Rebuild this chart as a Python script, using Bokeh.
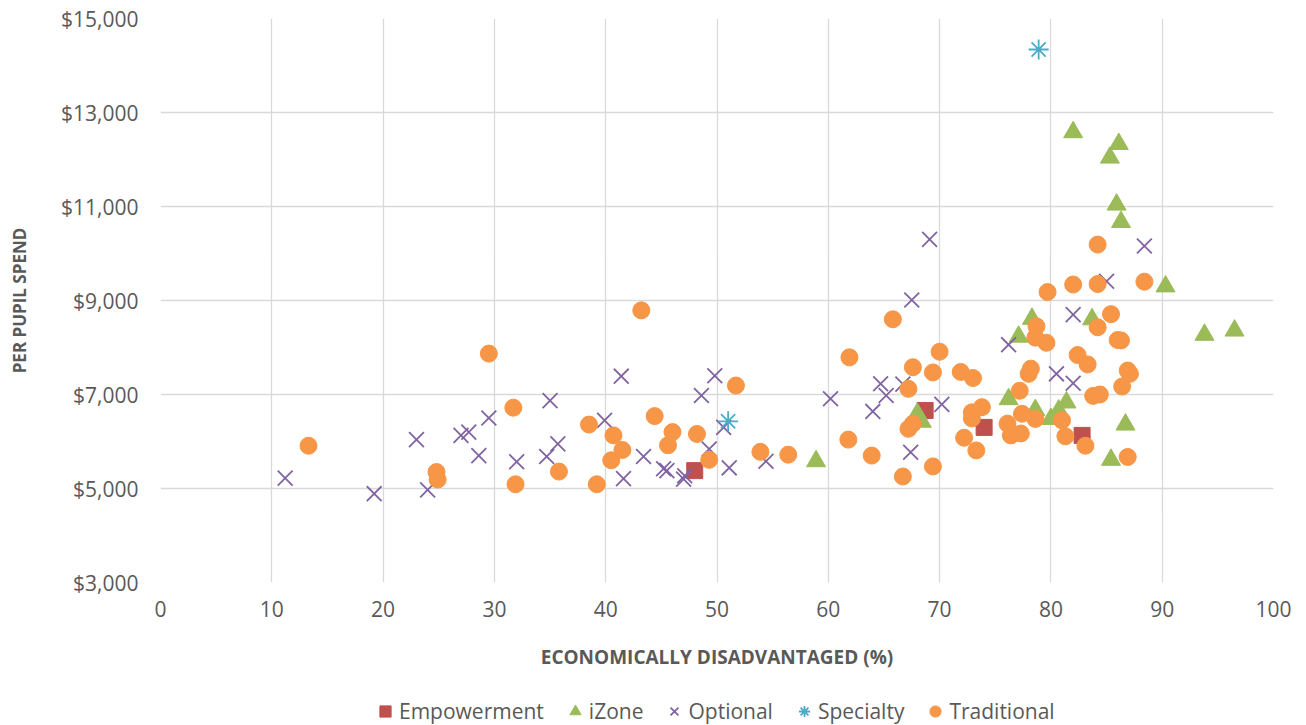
from bokeh.plotting import figure
from bokeh.layouts import column
from bokeh.models import (FixedTicker, NumeralTickFormatter, Legend, LegendItem, Range1d)
from bokeh.embed import file_html
from bokeh.resources import INLINE

# ---- data ----
emp_x = [48.0, 68.7, 74.0, 82.8]
emp_y = [5380, 6660, 6300, 6130]

izone_x = [58.9, 68.0, 68.4, 76.2, 77.1, 78.3, 78.6, 80.0, 80.7, 81.4, 82.0,
           83.7, 85.3, 85.4, 85.9, 86.1, 86.3, 86.7, 90.3, 93.8, 96.5]
izone_y = [5580, 6590, 6420, 6900, 8230, 8610, 6670, 6480, 6660, 6830, 12580,
           8600, 12040, 5610, 11040, 12330, 10670, 6360, 9300, 8270, 8360]

opt_x = [11.2, 19.2, 23.0, 24.0, 27.0, 27.7, 28.6, 29.5, 32.0, 34.7, 35.0,
         35.7, 39.9, 41.4, 41.6, 43.4, 45.2, 45.5, 47.0, 47.1, 48.6, 49.3,
         49.8, 50.6, 51.1, 54.4, 60.2, 64.0, 64.7, 65.2, 66.7, 67.4, 67.5,
         69.1, 70.2, 76.2, 80.5, 82.0, 82.0, 85.0, 88.4]
opt_y = [5220, 4890, 6040, 4970, 6130, 6200, 5700, 6500, 5570, 5680, 6870,
         5950, 6450, 7390, 5210, 5680, 5420, 5380, 5200, 5270, 6980, 5840,
         7400, 6300, 5440, 5580, 6910, 6640, 7230, 6980, 7220, 5770, 9010,
         10300, 6790, 8060, 7440, 7240, 8700, 9410, 10160]

spec_x = [51.0, 78.9]
spec_y = [6430, 14340]

trad_x = [13.3, 24.8, 24.9, 29.5, 31.7, 31.9, 35.8, 38.5, 39.2, 40.5, 40.7,
          41.5, 43.2, 44.4, 45.6, 46.0, 48.2, 49.3, 51.7, 53.9, 56.4, 61.8,
          61.9, 63.9, 65.8, 66.7, 67.2, 67.2, 67.6, 67.6, 69.4, 69.4, 70.0,
          71.9, 72.2, 72.9, 72.9, 73.0, 73.3, 73.8, 76.1, 76.4, 77.2, 77.3,
          77.4, 78.0, 78.2, 78.6, 78.6, 78.7, 79.6, 79.7, 81.0, 81.3, 82.0,
          82.4, 83.1, 83.3, 83.8, 84.2, 84.2, 84.2, 84.4, 85.4, 86.0, 86.3,
          86.4, 86.9, 87.1, 86.9, 88.4]
trad_y = [5910, 5350, 5190, 7870, 6720, 5090, 5360, 6360, 5090, 5600, 6130,
          5820, 8790, 6540, 5920, 6200, 6160, 5610, 7190, 5780, 5720, 6040,
          7790, 5700, 8600, 5255, 7120, 6270, 6380, 7580, 7470, 5470, 7910,
          7480, 6080, 6620, 6490, 7350, 5810, 6730, 6380, 6130, 7080, 6170,
          6590, 7440, 7550, 6480, 8210, 8450, 8100, 9180, 6450, 6110, 9340,
          7840, 5910, 7640, 6970, 8430, 9350, 10190, 7000, 8710, 8160, 8150,
          7170, 7510, 7440, 5670, 9400]

series_names = ["Empowerment", "iZone", "Optional", "Specialty", "Traditional"]
x_ticks = [0, 10, 20, 30, 40, 50, 60, 70, 80, 90, 100]
y_ticks = [3000, 5000, 7000, 9000, 11000, 13000, 15000]

FONT = "Open Sans"
GRAY = "#595959"

STYLES = [
    dict(marker="square", size=16, fill_color="#C0504D", line_color="#C0504D"),
    dict(marker="triangle", size=19, fill_color="#9BBB59", line_color="#9BBB59"),
    dict(marker="x", size=21, line_width=1.8, line_color="#8064A2"),
    dict(marker="asterisk", size=20, line_width=1.8, line_color="#4BACC6"),
    dict(marker="circle", size=17, fill_color="#F79646", line_color="#F79646"),
]

p = figure(frame_width=1113, frame_height=564, x_range=(0, 100), y_range=(3000, 15000),
           output_backend="svg", toolbar_location=None,
           min_border_left=160, min_border_right=33, min_border_top=18,
           min_border_bottom=100)
p.outline_line_color = None
p.background_fill_color = "white"
p.border_fill_color = "white"

for ax in (p.xaxis[0], p.yaxis[0]):
    ax.axis_line_color = None
    ax.major_tick_line_color = None
    ax.minor_tick_line_color = None
    ax.major_tick_out = 0
    ax.major_tick_in = 0
    ax.major_label_text_font = FONT
    ax.major_label_text_font_size = "21px"
    ax.major_label_text_color = GRAY
    ax.axis_label_text_font = FONT
    ax.axis_label_text_font_style = "bold"
    ax.axis_label_text_color = GRAY

p.xaxis.axis_label_text_font_size = "19px"
p.yaxis.axis_label_text_font_size = "17px"
p.xaxis.ticker = FixedTicker(ticks=x_ticks)
p.yaxis.ticker = FixedTicker(ticks=y_ticks)
p.yaxis.formatter = NumeralTickFormatter(format="$0,0")
p.xaxis.axis_label = "ECONOMICALLY DISADVANTAGED (%)"
p.yaxis.axis_label = "PER PUPIL SPEND"
p.xaxis.major_label_standoff = 18
p.yaxis.major_label_standoff = 22
p.xaxis.axis_label_standoff = 24
p.yaxis.axis_label_standoff = 27

p.xgrid.ticker = FixedTicker(ticks=x_ticks)
p.ygrid.ticker = FixedTicker(ticks=y_ticks)
p.xgrid.grid_line_color = "#D9D9D9"
p.ygrid.grid_line_color = "#D9D9D9"
p.xgrid.grid_line_width = 1.3
p.ygrid.grid_line_width = 1.3

data = [(emp_x, emp_y), (izone_x, izone_y), (opt_x, opt_y), (spec_x, spec_y), (trad_x, trad_y)]
for (xs, ys), st in zip(data, STYLES):
    p.scatter(xs, ys, **st)

# ---- legend strip (separate figure below the chart; frames are aligned) ----
lg = figure(width=1306, height=43, x_range=Range1d(0, 1), y_range=Range1d(0, 1),
            output_backend="svg", toolbar_location=None, min_border=0,
            x_axis_location=None, y_axis_location=None)
lg.outline_line_color = None
lg.xgrid.visible = False
lg.ygrid.visible = False
items = []
for name, st in zip(series_names, STYLES):
    # one off-range point so the legend has a glyph to draw; nothing shows in the strip
    r = lg.scatter([-5], [-5], **st)
    items.append(LegendItem(label=name, renderers=[r], index=0))

legend = Legend(items=items, orientation="horizontal", location=(211, 0))
legend.border_line_color = None
legend.background_fill_alpha = 0
legend.label_text_font = FONT
legend.label_text_font_size = "21px"
legend.label_text_color = GRAY
legend.glyph_width = 28
legend.glyph_height = 28
legend.label_height = 28
legend.label_standoff = 0
legend.spacing = 17
legend.padding = 0
legend.margin = 0
lg.add_layout(legend, "center")

layout = column(p, lg, spacing=0)
open("out.html", "w").write(file_html(layout, INLINE))
